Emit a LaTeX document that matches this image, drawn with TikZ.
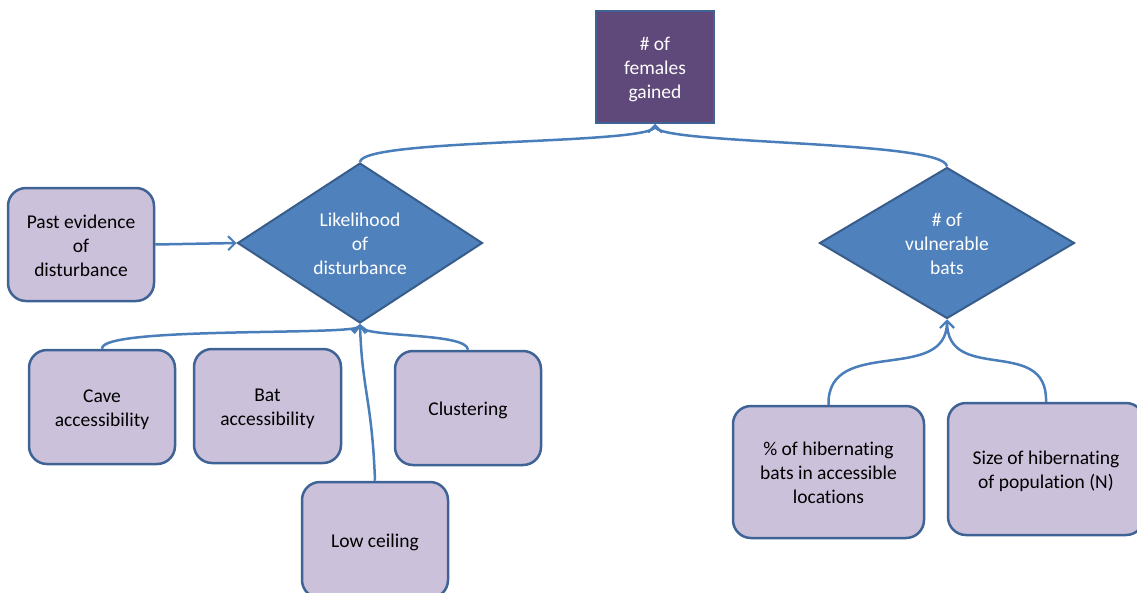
\documentclass[tikz,border=0pt]{standalone}
\usepackage{fontspec}
\setmainfont{Carlito}[Ligatures=NoCommon]
\usetikzlibrary{shapes.geometric,arrows.meta}
\definecolor{boxfill}{HTML}{CCC1DA}
\definecolor{boxline}{HTML}{3F6394}
\definecolor{goalfill}{HTML}{5F497A}
\definecolor{dfill}{HTML}{4F81BD}
\definecolor{dline}{HTML}{385D8A}
\definecolor{link}{HTML}{4A7EBB}
% centred lines of text, set a little below the middle of their shape
\newcommand\nodetext[1]{\raisebox{0pt}[\dimexpr\height+6pt\relax][\depth]{%
  \begin{tabular}{@{}c@{}}#1\end{tabular}}}
\begin{document}
\begin{tikzpicture}[x=1pt,y=-1pt,
  txt/.style={font=\fontsize{19.5}{24}\selectfont, inner sep=0pt},
  factor/.style={txt, draw=boxline, line width=2.5pt, fill=boxfill,
    rounded corners=18pt, text=black},
  goal/.style={txt, draw=boxline, line width=2pt, fill=goalfill, text=white},
  decision/.style={txt, diamond, aspect=1.6, draw=dline, line width=2pt,
    fill=dfill, text=white, minimum width=245pt, minimum height=160pt},
  link/.style={draw=link, line width=2.5pt,
    -{Straight Barb[length=7pt,width=14pt,line width=2pt]}}]
\useasboundingbox (0,0) rectangle (1137,592);

% goal
\node[goal, minimum width=118pt, minimum height=112pt] (goal) at (655,67)
  {\nodetext{\# of\\females\\gained}};

% decision diamonds
\node[decision] (dist) at (360,243) {\nodetext{Likelihood\\of\\disturbance}};
\node[decision, aspect=1.7, minimum width=255pt, minimum height=151pt] (vuln)
  at (947,243) {\nodetext{\# of\\vulnerable\\bats}};

% factor boxes
\node[factor, minimum width=146pt, minimum height=113pt] (past) at (81,244.5)
  {\nodetext{Past evidence\\of\\disturbance}};
\node[factor, minimum width=146pt, minimum height=114pt] (cave) at (102,407)
  {\nodetext{Cave\\accessibility}};
\node[factor, minimum width=147pt, minimum height=114pt] (bat) at (267.5,406)
  {\nodetext{Bat\\accessibility}};
\node[factor, minimum width=146pt, minimum height=114pt] (clus) at (468,408)
  {\nodetext{Clustering}};
\node[factor, minimum width=146pt, minimum height=116pt] (low) at (375,540)
  {\nodetext{Low ceiling}};
\node[factor, minimum width=191pt, minimum height=132pt] (pct) at (828.5,472)
  {\nodetext{\% of hibernating\\bats in accessible\\locations}};
\node[factor, minimum width=196pt, minimum height=132pt] (size) at (1046,469)
  {\nodetext{Size of hibernating\\of population (N)}};

% connectors
\draw[link] (dist.north) .. controls (362,138) and (655,145) .. (goal.south);
\draw[link] (vuln.north) .. controls (945,140) and (655,145) .. (goal.south);
\draw[link] (past.east) -- (dist.west);
\draw[link] (cave.north) .. controls (100,326) and (358,336) .. (dist.south);
\draw[link] (clus.north) .. controls (467,332) and (362,338) .. (dist.south);
\draw[link] (low.north) .. controls (372,400) and (362,390) .. (dist.south);
\draw[link] (pct.north) .. controls (827,335) and (947,385) .. (vuln.south);
\draw[link] (size.north) .. controls (1048,335) and (947,385) .. (vuln.south);
\end{tikzpicture}
\end{document}
